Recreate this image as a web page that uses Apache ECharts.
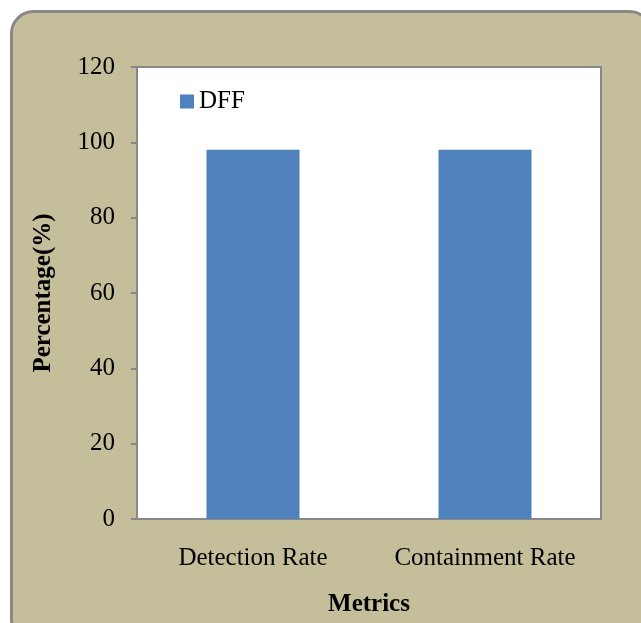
<!DOCTYPE html>
<html><head><meta charset="utf-8">
<script src="https://cdn.jsdelivr.net/npm/echarts@6/dist/echarts.min.js"></script>
<style>html,body{margin:0;padding:0;background:#fff}#c{width:641px;height:623px}</style>
</head><body><div id="c"></div>
<script>
var categories = ['Detection Rate', 'Containment Rate'];
var dffValues = [98, 98];
var yTicks = { min: 0, max: 120, interval: 20 };

var chart = echarts.init(document.getElementById('c'));
var font = '"Liberation Serif", "Times New Roman", serif';
chart.setOption({
  backgroundColor: '#ffffff',
  animation: false,
  graphic: [{
    type: 'rect', z: -10, silent: true,
    shape: { x: 11.5, y: 11.5, width: 640, height: 630, r: 22 },
    style: { fill: '#C5BE9A', stroke: '#888888', lineWidth: 3 }
  }],
  grid: { left: 137, top: 67, right: 40, bottom: 104, show: true, backgroundColor: '#ffffff', borderColor: '#888888', borderWidth: 2 },
  legend: {
    data: ['DFF'], left: 175, top: 84, itemWidth: 14, itemHeight: 14, itemGap: 4,
    icon: 'rect',
    textStyle: { fontFamily: font, fontSize: 25, color: '#000' }
  },
  xAxis: {
    type: 'category', data: categories,
    name: 'Metrics', nameLocation: 'middle', nameGap: 73,
    nameTextStyle: { fontFamily: font, fontSize: 25, fontWeight: 'bold', color: '#000' },
    axisLine: { lineStyle: { color: '#888888', width: 2 } },
    axisTick: { show: false },
    axisLabel: { interval: 0, fontFamily: font, fontSize: 25, color: '#000', margin: 27 }
  },
  yAxis: {
    type: 'value', min: yTicks.min, max: yTicks.max, interval: yTicks.interval,
    name: 'Percentage(%)', nameLocation: 'middle', nameGap: 81,
    nameTextStyle: { fontFamily: font, fontSize: 25, fontWeight: 'bold', color: '#000' },
    axisLine: { show: true, lineStyle: { color: '#888888', width: 2 } },
    axisTick: { show: true, length: 6, inside: false, lineStyle: { color: '#888888', width: 2 } },
    splitLine: { show: false },
    axisLabel: { fontFamily: font, fontSize: 25, color: '#000', margin: 22 }
  },
  series: [{
    name: 'DFF', type: 'bar', data: dffValues, barWidth: 93,
    itemStyle: { color: '#4F81BD' }
  }]
});
</script></body></html>
